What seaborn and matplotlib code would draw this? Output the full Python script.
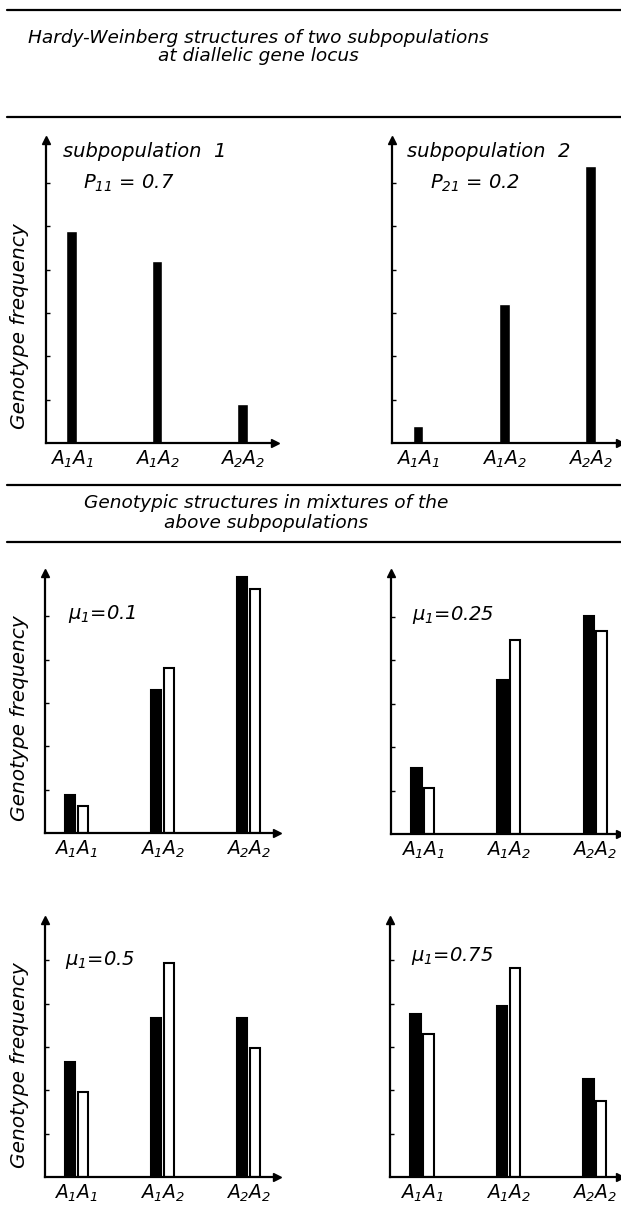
import pandas as pd
import matplotlib.pyplot as plt
import seaborn as sns

# genotype categories and tick labels
genotypes = ["A1A1", "A1A2", "A2A2"]
genotype_labels = [r"$A_1A_1$", r"$A_1A_2$", r"$A_2A_2$"]

# Hardy-Weinberg structures of the two subpopulations
sub1_freq = [0.49, 0.42, 0.09]
sub2_freq = [0.04, 0.32, 0.64]

# mixtures: observed (black) and Hardy-Weinberg expected (white)
mu_values = ["0.1", "0.25", "0.5", "0.75"]
mix_observed_01 = [0.088, 0.330, 0.590]
mix_expected_01 = [0.063, 0.380, 0.563]
mix_observed_025 = [0.152, 0.354, 0.502]
mix_expected_025 = [0.105, 0.446, 0.467]
mix_observed_05 = [0.266, 0.366, 0.366]
mix_expected_05 = [0.196, 0.494, 0.298]
mix_observed_075 = [0.375, 0.395, 0.225]
mix_expected_075 = [0.329, 0.483, 0.175]

sns.set_style("white")
plt.rcParams["font.family"] = ["DejaVu Sans"]
plt.rcParams["font.style"] = "italic"
plt.rcParams["mathtext.fontset"] = "dejavusans"
plt.rcParams["text.color"] = "black"
plt.rcParams["xtick.color"] = "black"
plt.rcParams["ytick.color"] = "black"

W, H = 621, 1216
fig = plt.figure(figsize=(W / 100, H / 100), dpi=100)


def rect(l, r, t, b):
    return [l / W, 1 - b / H, (r - l) / W, (b - t) / H]


def fxy(x, y):
    return x / W, 1 - y / H


def style_axis(ax, xlim, ylim, nticks):
    ax.set_xlim(*xlim)
    ax.set_ylim(*ylim)
    for s in ["top", "right"]:
        ax.spines[s].set_visible(False)
    for s in ["left", "bottom"]:
        ax.spines[s].set_linewidth(1.6)
        ax.spines[s].set_color("black")
    ax.set_yticks([0.1 * (i + 1) for i in range(nticks)])
    ax.set_yticklabels([])
    ax.tick_params(axis="y", direction="in", length=3, width=1, left=True)
    ax.set_xticks(range(len(genotypes)))
    ax.set_xticklabels(genotype_labels, fontsize=13.5)
    ax.tick_params(axis="x", length=0, pad=4)
    ax.set_xlabel("")
    ax.set_ylabel("")
    ax.patch.set_alpha(0)
    # arrow heads at the ends of the axes
    ax.plot(0, 1, marker="^", color="black", markersize=6,
            transform=ax.transAxes, clip_on=False)
    ax.plot(1, 0, marker=">", color="black", markersize=6,
            transform=ax.transAxes, clip_on=False)


# --- top row: subpopulations
for freqs, r, xl in [(sub1_freq, rect(46, 275, 140, 443), (-0.3, 2.38)),
                     (sub2_freq, rect(392, 620, 140, 443), (-0.3, 2.34))]:
    ax = fig.add_axes(r)
    sns.barplot(x=genotypes, y=freqs, color="black", saturation=1,
                width=0.125, errorbar=None, ax=ax)
    style_axis(ax, xl, (0, 0.699), 6)

# --- mixtures
mixtures = [
    (mix_observed_01, mix_expected_01, rect(45, 277, 573, 833), (-0.364, 2.33), (0, 0.6)),
    (mix_observed_025, mix_expected_025, rect(391, 620, 573, 834), (-0.37, 2.29), (0, 0.6)),
    (mix_observed_05, mix_expected_05, rect(45, 277, 920, 1177), (-0.364, 2.33), (0, 0.593)),
    (mix_observed_075, mix_expected_075, rect(390, 620, 920, 1177), (-0.37, 2.29), (0, 0.593)),
]
for obs, exp, r, xl, yl in mixtures:
    df = pd.DataFrame({
        "genotype": genotypes * 2,
        "freq": obs + exp,
        "kind": ["observed"] * 3 + ["expected"] * 3,
    })
    ax = fig.add_axes(r)
    sns.barplot(data=df, x="genotype", y="freq", hue="kind",
                palette={"observed": "black", "expected": "white"},
                saturation=1, width=0.296, gap=0.2, errorbar=None,
                edgecolor="black", linewidth=1.5, legend=False, ax=ax)
    style_axis(ax, xl, yl, 5)

# --- horizontal rules
for y in [10, 117, 485, 542]:
    fig.add_artist(plt.Line2D([7 / W, 1], [1 - y / H] * 2,
                              transform=fig.transFigure, color="black", lw=1.6))

# --- headings
fig.text(*fxy(258, 47), "Hardy-Weinberg structures of two subpopulations\nat diallelic gene locus",
         ha="center", va="center", fontsize=13.3, linespacing=1.0)
fig.text(*fxy(266, 513), "Genotypic structures in mixtures of the\nabove subpopulations",
         ha="center", va="center", fontsize=13.3, linespacing=1.2)

# --- y labels
for y in [326, 718, 1065]:
    fig.text(*fxy(20, y), "Genotype frequency", rotation=90,
             ha="center", va="center", fontsize=14.5)

# --- panel annotations
fig.text(*fxy(63, 157), "subpopulation  1", ha="left", va="baseline", fontsize=14)
fig.text(*fxy(83, 189), r"$P_{11}$ = 0.7", ha="left", va="baseline", fontsize=14)
fig.text(*fxy(407, 157), "subpopulation  2", ha="left", va="baseline", fontsize=14)
fig.text(*fxy(430, 189), r"$P_{21}$ = 0.2", ha="left", va="baseline", fontsize=14)

for mu, (x, y) in zip(mu_values, [(68, 619), (412, 620), (65, 965), (411, 961)]):
    fig.text(*fxy(x, y), r"$\mu_1$=" + mu, ha="left", va="baseline", fontsize=14)

plt.savefig("out.png", dpi=100)
